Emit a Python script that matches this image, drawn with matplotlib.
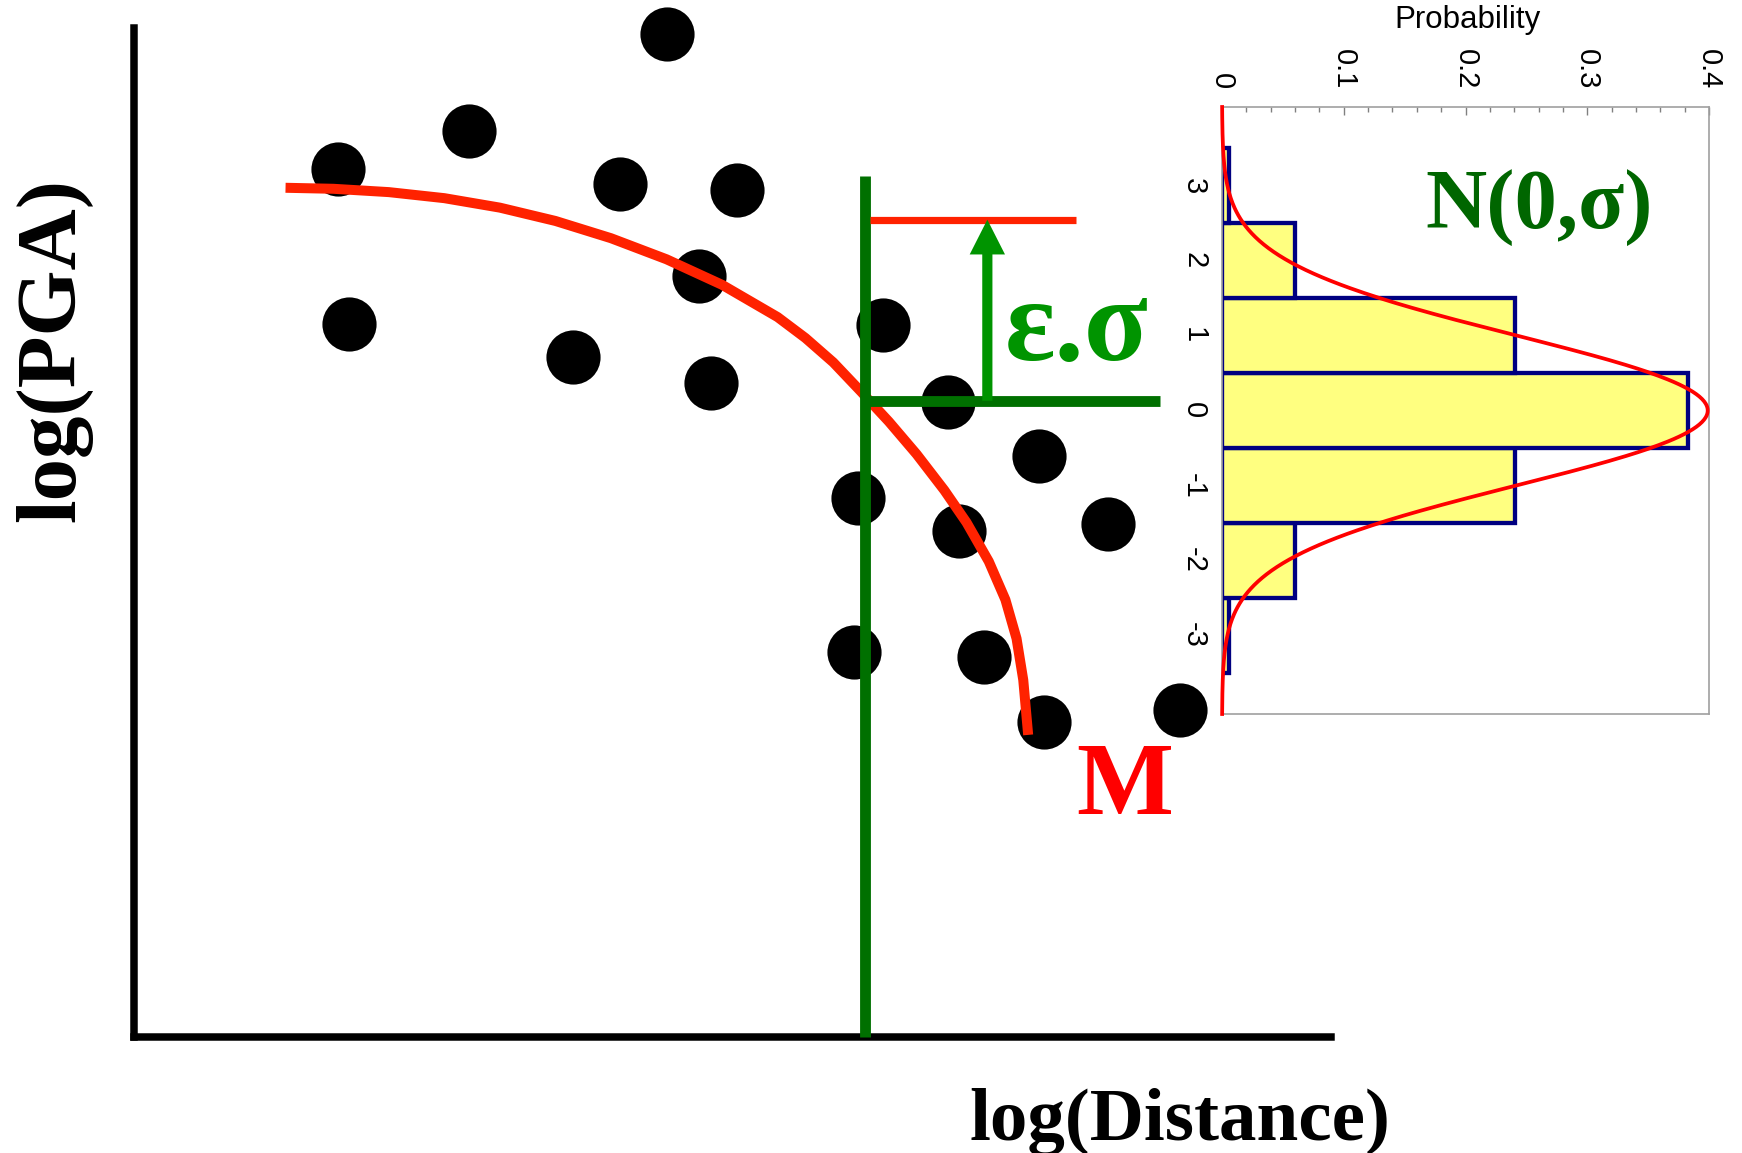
import numpy as np
import matplotlib
matplotlib.use("Agg")
import matplotlib.pyplot as plt

plt.rcParams["axes.unicode_minus"] = False

# ---- scatter of recorded ground motions (log distance, log PGA), arbitrary units ----
obs_logdist = [44.49, 27.97, 17.02, 40.59, 50.34, 47.19, 17.95, 36.70, 48.20, 62.54,
               67.98, 75.62, 60.46, 68.91, 81.36, 60.12, 71.04, 76.01, 87.40]
obs_logpga = [99.37, 89.78, 86.03, 84.49, 83.94, 75.46, 70.62, 67.42, 64.78, 70.56,
              62.90, 57.61, 53.43, 50.12, 50.87, 38.12, 37.65, 31.21, 32.40]

# ---- median attenuation curve for magnitude M ----
curve_logdist = [12.66, 16.65, 21.29, 25.93, 30.57, 35.21, 39.85, 44.49, 49.13, 53.77,
                 56.09, 58.42, 60.74, 63.06, 65.38, 67.70, 69.55, 71.41, 72.80, 73.73,
                 74.29, 74.70]
curve_logpga = [84.16, 84.06, 83.73, 83.13, 82.19, 80.87, 79.16, 77.07, 74.54, 71.34,
                69.27, 66.85, 63.95, 60.98, 57.75, 54.17, 50.98, 47.12, 43.32, 39.47,
                35.37, 29.92]

# ---- site distance, median level and the epsilon-sigma exceedance ----
site_logdist = 61.07
site_top = 85.33
median_level = 63.05
median_line_end = 85.71
exceed_level = 81.0
exceed_line = (61.49, 78.70)
arrow_x = 71.29

# ---- residual histogram (standard normal bins) ----
eps_bins = [-3, -2, -1, 0, 1, 2, 3]
eps_prob = [0.006, 0.060, 0.241, 0.383, 0.241, 0.060, 0.006]
prob_ticks = [0, 0.1, 0.2, 0.3, 0.4]
prob_ticklabels = ["0", "0.1", "0.2", "0.3", "0.4"]
eps_ticklabels = ["-3", "-2", "-1", "0", "1", "2", "3"]

SERIF = ["Liberation Serif", "DejaVu Serif"]
SANS = ["Liberation Sans", "DejaVu Sans"]
TICK_SIZE = 21

W, H = 1742, 1153
fig = plt.figure(figsize=(W / 100, H / 100), dpi=100)

# main panel
ax = fig.add_axes([134 / W, (H - 1036.7) / H, (1331 - 134) / W, (1036.7 - 28) / H])
ax.set_xlim(0, 100)
ax.set_ylim(0, 100)
ax.set_facecolor("none")
for s in ("top", "right"):
    ax.spines[s].set_visible(False)
ax.spines["left"].set_linewidth(5.4)
ax.spines["bottom"].set_linewidth(5.4)
ax.spines["left"].set_capstyle("projecting")
ax.spines["bottom"].set_capstyle("projecting")
ax.set_xticks([])
ax.set_yticks([])

ax.plot(obs_logdist, obs_logpga, "o", color="black", markersize=39,
        markeredgewidth=0, clip_on=False, zorder=3)
ax.plot(curve_logdist, curve_logpga, color="#ff2200", lw=7.2,
        solid_capstyle="butt", solid_joinstyle="round", clip_on=False, zorder=4)

ax.plot([site_logdist, site_logdist], [0, site_top], color="#007000", lw=7.8,
        solid_capstyle="butt", clip_on=False, zorder=5)
ax.plot([site_logdist, median_line_end], [median_level, median_level],
        color="#007000", lw=7.8, solid_capstyle="butt", clip_on=False, zorder=5)
ax.plot(list(exceed_line), [exceed_level, exceed_level], color="#ff2200", lw=5.2,
        solid_capstyle="butt", clip_on=False, zorder=5)
ax.arrow(arrow_x, median_level, 0, exceed_level - median_level,
         width=0.85, head_width=2.95, head_length=3.45,
         length_includes_head=True, color="#009400", lw=0, zorder=6)

ax.text(72.77, 67.09, "ε.σ", color="#009400", fontsize=85, fontweight="bold",
        family=SERIF, ha="left", va="baseline", zorder=7)
ax.text(78.70, 22.05, "M", color="#ff0000", fontsize=74, fontweight="bold",
        family=SERIF, ha="left", va="baseline", zorder=7)

fig.text(1180 / W, (H - 1140) / H, "log(Distance)", fontsize=54,
         fontweight="bold", family=SERIF, ha="center", va="baseline")
fig.text(54 / W, 1 - 350 / H, "log(PGA)", fontsize=61, fontweight="bold",
         family=SERIF, ha="center", va="center", rotation=90)

# inset: probability of the residual epsilon
ax2 = fig.add_axes([1222 / W, (H - 714) / H, (1709 - 1222) / W, (714 - 107) / H])
ax2.set_facecolor("white")
ax2.set_xlim(0, 0.4)
ax2.set_ylim(-4.05, 4.05)
ax2.barh(eps_bins, eps_prob, height=1.0, left=0, color="#ffff80",
         edgecolor="#000080", linewidth=3.1, zorder=2)
z = np.linspace(-4.05, 4.05, 500)
ax2.plot(np.exp(-z ** 2 / 2) / np.sqrt(2 * np.pi), z, color="#ff0000",
         lw=2.7, clip_on=False, zorder=3)

for sp in ax2.spines.values():
    sp.set_color("#a0a0a0")
    sp.set_linewidth(1.2)

ax2.xaxis.tick_top()
ax2.set_xticks(prob_ticks)
ax2.set_xticklabels(prob_ticklabels, rotation=-90, fontsize=TICK_SIZE, family=SANS)
ax2.set_xticks(np.arange(0, 0.401, 0.02), minor=True)
ax2.tick_params(axis="x", which="major", direction="in", length=6, width=1,
                color="#808080", pad=13)
ax2.tick_params(axis="x", which="minor", direction="in", length=3.6, width=1,
                color="#808080")
ax2.set_yticks(eps_bins)
ax2.set_yticklabels(eps_ticklabels, rotation=-90, fontsize=TICK_SIZE, family=SANS)
for lbl in ax2.get_yticklabels():
    lbl.set_va("center")
ax2.tick_params(axis="y", which="both", length=0, pad=10)

ax2.text(0.1667, 2.44, "N(0,σ)", color="#006600", fontsize=61, fontweight="bold",
         family=SERIF, ha="left", va="baseline", zorder=5)

fig.text(1467 / W, 1 - 28 / H, "Probability", fontsize=22.5, family=SANS,
         ha="center", va="baseline")

fig.savefig("out.png", dpi=100)
